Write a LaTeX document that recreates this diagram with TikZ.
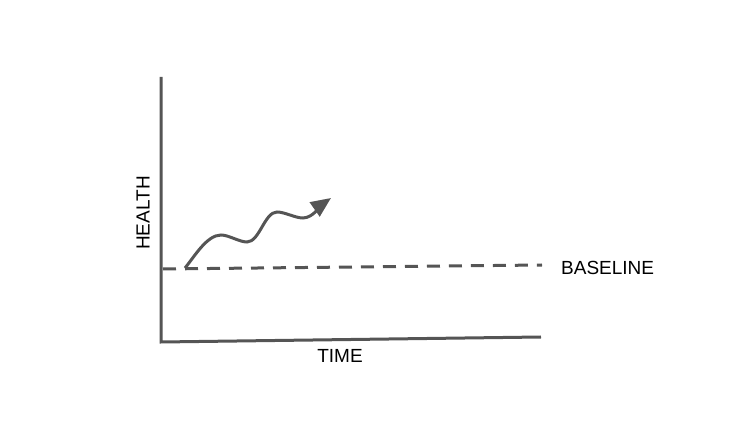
\documentclass[tikz,border=0pt]{standalone}
\usepackage{fontspec}
\setmainfont{Liberation Sans}
\usetikzlibrary{arrows.meta,positioning}

\definecolor{axisgray}{HTML}{555555}

\begin{document}
\begin{tikzpicture}[x=1pt, y=1pt, axis/.style={draw=axisgray, line width=3pt},
	label/.style={inner sep=0pt, font=\fontsize{19}{19}\selectfont}]
	\useasboundingbox (0,0) rectangle (750,423);
	\coordinate (o) at (161,81);
	\coordinate (top) at (161,346);
	\coordinate (right) at (541,86);
	\coordinate (b0) at (163,154);
	\coordinate (b1) at (542,158);
	\coordinate (w0) at (185,155);
	\coordinate (w1) at (221,188);
	\coordinate (w2) at (247,181);
	\coordinate (w3) at (277,211);
	\coordinate (w4) at (303,205);
	\coordinate (w5) at (331,225);
	\node[label, rotate=90] (health) at (143,210) {HEALTH};
	\node[label] (time) at (340,67) {TIME};
	\node[label, anchor=west] (base) at (561,155) {BASELINE};

	\draw[axis, line join=miter] (top) -- (o) -- (right);
	\draw[axis, dash pattern=on 13pt off 9pt] (b0) -- (b1);
	\draw[axis, -{Triangle[length=20pt, width=17pt]}, looseness=0.75]
		(w0) to[out=50, in=180] (w1) to[out=0, in=180] (w2)
		to[out=0, in=180] (w3) to[out=0, in=180] (w4)
		to[out=0, in=215] (w5);
\end{tikzpicture}
\end{document}
